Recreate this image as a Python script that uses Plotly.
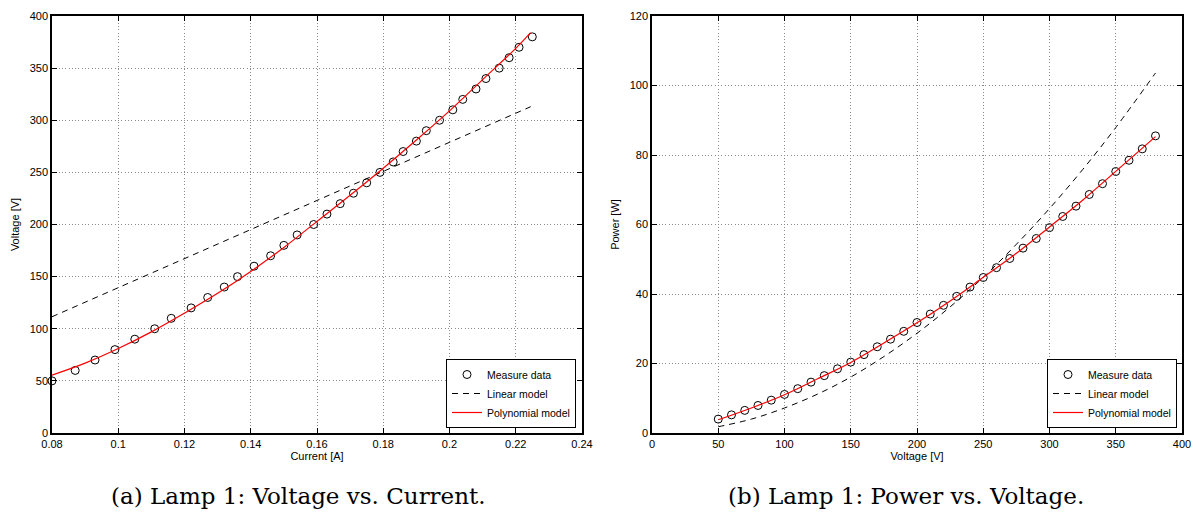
import plotly.graph_objects as go

# Lamp 1 measurements
voltage_v = [50, 60, 70, 80, 90, 100, 110, 120, 130, 140, 150, 160, 170, 180,
             190, 200, 210, 220, 230, 240, 250, 260, 270, 280, 290, 300, 310,
             320, 330, 340, 350, 360, 370, 380]
current_a = [0.080, 0.087, 0.093, 0.099, 0.105, 0.111, 0.116, 0.122, 0.127,
             0.132, 0.136, 0.141, 0.146, 0.150, 0.154, 0.159, 0.163, 0.167,
             0.171, 0.175, 0.179, 0.183, 0.186, 0.190, 0.193, 0.197, 0.201,
             0.204, 0.208, 0.211, 0.215, 0.218, 0.221, 0.225]
power_w = [4.00, 5.22, 6.51, 7.92, 9.45, 11.10, 12.76, 14.64, 16.51, 18.48,
           20.40, 22.56, 24.82, 27.00, 29.26, 31.80, 34.23, 36.74, 39.33,
           42.00, 44.75, 47.58, 50.22, 53.20, 55.97, 59.10, 62.31, 65.28,
           68.64, 71.74, 75.25, 78.48, 81.77, 85.50]

# Model curves, voltage vs current
lin_vi_current = [0.080, 0.2245]
lin_vi_voltage = [111.5, 313.0]
poly_vi_current = [0.080, 0.090, 0.100, 0.110, 0.120, 0.130, 0.140, 0.150,
                   0.160, 0.170, 0.180, 0.190, 0.200, 0.210, 0.220, 0.2245]
poly_vi_voltage = [55.5, 67, 81, 97, 115, 134, 155, 178, 203, 228, 254, 281,
                   309, 339, 369, 384]

# Model curves, power vs voltage
lin_pv_voltage = [50, 75, 100, 125, 150, 175, 200, 225, 250, 275, 300, 325,
                  350, 380]
lin_pv_power = [1.8, 4.0, 7.2, 11.2, 16.1, 22.0, 28.7, 36.3, 44.8, 54.3,
                64.6, 75.8, 87.9, 103.6]
poly_pv_voltage = [50, 75, 100, 125, 150, 175, 200, 225, 250, 275, 300, 325,
                   350, 380]
poly_pv_power = [3.8, 7.2, 11.0, 15.6, 20.3, 25.9, 31.7, 38.0, 44.8, 51.7,
                 59.3, 67.0, 75.3, 85.3]

# Axis ticks
x1_ticks = [0.08, 0.10, 0.12, 0.14, 0.16, 0.18, 0.20, 0.22, 0.24]
x1_labels = ["0.08", "0.1", "0.12", "0.14", "0.16", "0.18", "0.2", "0.22", "0.24"]
y1_ticks = [0, 50, 100, 150, 200, 250, 300, 350, 400]
x2_ticks = [0, 50, 100, 150, 200, 250, 300, 350, 400]
y2_ticks = [0, 20, 40, 60, 80, 100, 120]

captions = ["(a) Lamp 1: Voltage vs. Current.", "(b) Lamp 1: Power vs. Voltage."]

W, H = 1199, 514
SANS = "Liberation Sans, Arial, Helvetica, sans-serif"


def px_x(p):
    return p / W


def px_y(p):
    return 1 - p / H


fig = go.Figure()

marker = dict(symbol="circle-open", size=8, color="black", line=dict(width=1, color="black"))
dash = dict(color="black", width=1, dash="6px,5px")
red = dict(color="red", width=1.2)

for xa, ya, lg, mx, my, lx, ly, px, py in [
    ("x", "y", "legend", current_a, voltage_v, lin_vi_current, lin_vi_voltage,
     poly_vi_current, poly_vi_voltage),
    ("x2", "y2", "legend2", voltage_v, power_w, lin_pv_voltage, lin_pv_power,
     poly_pv_voltage, poly_pv_power),
]:
    fig.add_trace(go.Scatter(x=mx, y=my, mode="markers", marker=marker,
                             name="Measure data", xaxis=xa, yaxis=ya, legend=lg,
                             cliponaxis=False))
    fig.add_trace(go.Scatter(x=lx, y=ly, mode="lines", line=dict(shape="spline", **dash),
                             name="Linear model", xaxis=xa, yaxis=ya, legend=lg))
    fig.add_trace(go.Scatter(x=px, y=py, mode="lines", line=dict(shape="spline", **red),
                             name="Polynomial model", xaxis=xa, yaxis=ya, legend=lg))


def axis(title, rng, vals, texts, domain, anchor, standoff):
    return dict(
        domain=domain, anchor=anchor, range=rng, tickvals=vals, ticktext=texts,
        ticks="inside", ticklen=5, tickcolor="black", tickwidth=1,
        mirror="allticks", showline=True, linecolor="black", linewidth=1.5,
        showgrid=True, gridcolor="#8a8a8a", gridwidth=1, griddash="1px,2.3px",
        zeroline=False, automargin=False,
        tickfont=dict(family=SANS, size=11, color="black"),
        title=dict(text=title, font=dict(family=SANS, size=11, color="black"),
                   standoff=standoff),
    )


ydom = [px_y(433), px_y(16)]
fig.update_layout(
    width=W, height=H,
    margin=dict(l=0, r=0, t=0, b=0),
    plot_bgcolor="white", paper_bgcolor="white",
    showlegend=True,
    xaxis=axis("Current [A]", [0.08, 0.24], x1_ticks, x1_labels,
               [px_x(52), px_x(582)], "y", 2),
    yaxis=axis("Voltage [V]", [0, 400], y1_ticks, [str(v) for v in y1_ticks],
               ydom, "x", 8),
    xaxis2=axis("Voltage [V]", [0, 400], x2_ticks, [str(v) for v in x2_ticks],
                [px_x(652), px_x(1182)], "y2", 2),
    yaxis2=axis("Power [W]", [0, 120], y2_ticks, [str(v) for v in y2_ticks],
                ydom, "x2", 8),
)

legend_style = dict(
    bgcolor="white", bordercolor="black", borderwidth=1,
    font=dict(family=SANS, size=10.5, color="black"),
    xanchor="right", yanchor="bottom", tracegroupgap=0, itemwidth=30,
)
fig.update_layout(
    legend=dict(x=px_x(576), y=px_y(428), **legend_style),
    legend2=dict(x=px_x(1177), y=px_y(428), **legend_style),
)

for text, cx in zip(captions, [298, 906]):
    fig.add_annotation(text=text, x=px_x(cx), y=px_y(496), xref="paper", yref="paper",
                       xanchor="center", yanchor="middle", showarrow=False,
                       font=dict(family="DejaVu Serif, serif", size=23, color="black"))

fig.write_html("out.html")
